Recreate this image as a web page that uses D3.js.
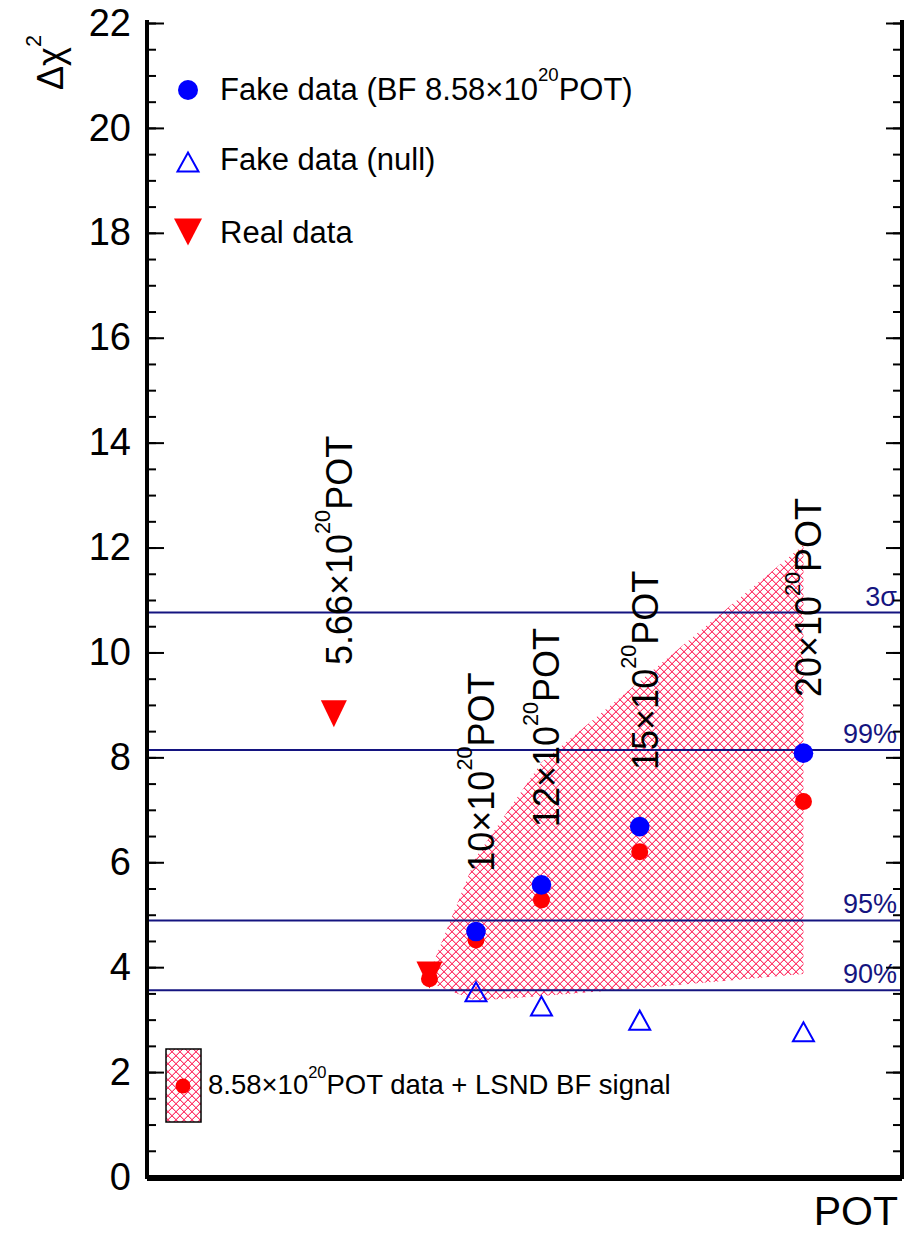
<!DOCTYPE html>
<html>
<head>
<meta charset="utf-8">
<script src="https://cdn.jsdelivr.net/npm/d3@7"></script>
<style>
  html, body { margin: 0; padding: 0; background: #fff; }
  svg { display: block; font-family: "Liberation Sans", Arial, Helvetica, sans-serif; }
</style>
</head>
<body>
<svg id="chart" width="914" height="1233"></svg>
<script>
// ---------------- data ----------------
const potBF = [10, 12, 15, 20];
const fakeBF = [4.68, 5.57, 6.68, 8.08];
const fakeNull = [3.53, 3.26, 2.99, 2.77];

const realPOT = [5.66, 8.58];
const realData = [8.83, 3.85];

const signalPOT = [8.58, 10, 12, 15, 20];
const signalData = [3.78, 4.52, 5.28, 6.2, 7.16];

const bandPOT = [8.58, 10, 12, 15, 20];
const bandLow = [3.7, 3.36, 3.45, 3.6, 3.87];
const bandHigh = [3.9, 6.1, 7.9, 9.45, 12.05];

const thresholdValues = [10.76, 8.14, 4.89, 3.56];
const thresholdLabels = ["3σ", "99%", "95%", "90%"];

const potLabelNames = ["5.66", "10", "12", "15", "20"];
const potLabelX = [5.66, 10, 12, 15, 20];
const potLabelY = [9.76, 5.82, 6.67, 7.76, 9.15];

const yMajorTicks = [0, 2, 4, 6, 8, 10, 12, 14, 16, 18, 20, 22];
const yMinorTicks = d3.range(0, 22.01, 0.5);

// ---------------- layout ----------------
const svg = d3.select("#chart");
const frameL = 147, frameR = 902, frameT = 20, frameB = 1177;
const x = d3.scaleLinear().domain([0, 23]).range([148.5, 901.7]);
const y = d3.scaleLinear().domain([0, 22]).range([1177, 23]);

const RED = "#ff0000", BLUE = "#0000ff", NAVY = "#141480";
const HATCH = "#ff3d6e", HATCH_SOFT = "#ffb0c2";

// hatch pattern built from 1px cells (crisp diagonal cross-hatch with soft edge)
const defs = svg.append("defs");
const P = 8;
const pat = defs.append("pattern").attr("id", "hatch")
  .attr("patternUnits", "userSpaceOnUse").attr("width", P).attr("height", P);
const grid = new Map();
for (let i = 0; i < P; i++) {
  grid.set(`${(i + 1) % P},${i}`, HATCH_SOFT);
  grid.set(`${(P - 2 - i + P) % P},${i}`, HATCH_SOFT);
}
for (let i = 0; i < P; i++) {
  grid.set(`${i},${i}`, HATCH);
  grid.set(`${P - 1 - i},${i}`, HATCH);
}
const cells = Array.from(grid, ([k, c]) => { const [cx, cy] = k.split(",").map(Number); return {cx, cy, c}; });
pat.selectAll("rect").data(cells).join("rect")
  .attr("x", d => d.cx).attr("y", d => d.cy).attr("width", 1).attr("height", 1)
  .attr("fill", d => d.c).attr("shape-rendering", "crispEdges");

// band
const bandData = bandPOT.map((p, i) => ({p, lo: bandLow[i], hi: bandHigh[i]}));
svg.append("path").datum(bandData)
  .attr("d", d3.area().x(d => x(d.p)).y0(d => y(d.lo)).y1(d => y(d.hi)))
  .attr("fill", "url(#hatch)");

// threshold lines
const thr = svg.append("g");
thresholdValues.forEach((v, i) => {
  thr.append("line").attr("x1", frameL).attr("x2", frameR)
    .attr("y1", y(v)).attr("y2", y(v))
    .attr("stroke", NAVY).attr("stroke-width", 2);
  thr.append("text").attr("x", 897).attr("y", y(v) - 7)
    .attr("text-anchor", "end").attr("font-size", 27).attr("fill", NAVY)
    .text(thresholdLabels[i]);
});

// helper for text with superscript
function supText(g, base, sup, rest, size) {
  const t = g.append("text").attr("font-size", size).attr("fill", "#000");
  t.append("tspan").text(base);
  t.append("tspan").attr("font-size", size * 0.6).attr("dy", -size * 0.6).text(sup);
  t.append("tspan").attr("dy", size * 0.6).text(rest);
  return t;
}

// rotated POT labels
potLabelNames.forEach((n, i) => {
  const g = svg.append("g")
    .attr("transform", `translate(${x(potLabelX[i]) + 18},${y(potLabelY[i])}) rotate(-90)`);
  supText(g, n + "×10", "20", "POT", 36);
});

// markers
function downTri(w, h) { return `M${-w/2},${-h/2} L${w/2},${-h/2} L0,${h/2} Z`; }
function upTri(w, h) { return `M${-w/2},${h/2} L${w/2},${h/2} L0,${-h/2} Z`; }

// red signal circles
svg.append("g").selectAll("circle").data(signalPOT).join("circle")
  .attr("cx", d => x(d)).attr("cy", (d, i) => y(signalData[i])).attr("r", 8.5)
  .attr("fill", RED);

// real data (down triangles)
svg.append("g").selectAll("path").data(realPOT).join("path")
  .attr("transform", (d, i) => `translate(${x(d)},${y(realData[i])})`)
  .attr("d", downTri(26, 27)).attr("fill", RED);

// fake BF (blue circles)
svg.append("g").selectAll("circle").data(potBF).join("circle")
  .attr("cx", d => x(d)).attr("cy", (d, i) => y(fakeBF[i])).attr("r", 9.8)
  .attr("fill", BLUE);

// fake null (open triangles)
svg.append("g").selectAll("path").data(potBF).join("path")
  .attr("transform", (d, i) => `translate(${x(d)},${y(fakeNull[i])})`)
  .attr("d", upTri(21, 19)).attr("fill", "none").attr("stroke", BLUE).attr("stroke-width", 2);

// ---------------- axes ----------------
const axL = svg.append("g").attr("transform", `translate(${frameL},0)`);
axL.call(d3.axisRight(y).tickValues(yMinorTicks).tickSize(9).tickFormat(""));
axL.append("g").call(d3.axisRight(y).tickValues(yMajorTicks).tickSize(17).tickFormat(""));
const axLab = svg.append("g").attr("transform", `translate(${frameL},0)`)
  .call(d3.axisLeft(y).tickValues(yMajorTicks).tickSize(0).tickPadding(16).tickFormat(d3.format("d")));
axLab.selectAll("text").attr("font-size", 38).attr("fill", "#000")
  .attr("font-family", "'Liberation Sans', Arial, sans-serif");

const axR = svg.append("g").attr("transform", `translate(${frameR},0)`);
axR.call(d3.axisLeft(y).tickValues(yMinorTicks).tickSize(9).tickFormat(""));
axR.append("g").call(d3.axisLeft(y).tickValues(yMajorTicks).tickSize(16).tickFormat(""));

svg.selectAll(".domain").remove();
svg.selectAll(".tick line").attr("stroke", "#000").attr("stroke-width", 2);

// frame
svg.append("path")
  .attr("d", `M${frameL},${frameT} L${frameL},${frameB} L${frameR},${frameB} L${frameR},${frameT}`)
  .attr("fill", "none").attr("stroke", "#000").attr("stroke-width", 4);
svg.append("line").attr("x1", frameL).attr("x2", frameR).attr("y1", frameB + 1).attr("y2", frameB + 1)
  .attr("stroke", "#000").attr("stroke-width", 6);

// axis titles
svg.append("text").attr("x", 898).attr("y", 1225).attr("text-anchor", "end")
  .attr("font-size", 41).text("POT");
const yt = svg.append("g").attr("transform", "translate(63,90) rotate(-90)");
supText(yt, "Δχ", "2", "", 36);

// ---------------- legends ----------------
const leg = svg.append("g");
leg.append("circle").attr("cx", 188).attr("cy", 90).attr("r", 10).attr("fill", BLUE);
supText(leg.append("g").attr("transform", "translate(220,100)"), "Fake data (BF 8.58×10", "20", "POT)", 31);
leg.append("path").attr("transform", "translate(188,162)").attr("d", upTri(21, 19))
  .attr("fill", "none").attr("stroke", BLUE).attr("stroke-width", 2);
leg.append("text").attr("x", 220).attr("y", 170).attr("font-size", 31).text("Fake data (null)");
leg.append("path").attr("transform", "translate(188,232)").attr("d", downTri(28, 27)).attr("fill", RED);
leg.append("text").attr("x", 220).attr("y", 243).attr("font-size", 31).text("Real data");

const leg2 = svg.append("g");
leg2.append("rect").attr("x", 166).attr("y", 1049).attr("width", 35).attr("height", 73)
  .attr("fill", "url(#hatch)").attr("stroke", "#000").attr("stroke-width", 1.5);
leg2.append("circle").attr("cx", 183).attr("cy", 1086).attr("r", 7.5).attr("fill", RED);
supText(leg2.append("g").attr("transform", "translate(208,1094)"), "8.58×10", "20", "POT data + LSND BF signal", 27.5);
</script>
</body>
</html>
